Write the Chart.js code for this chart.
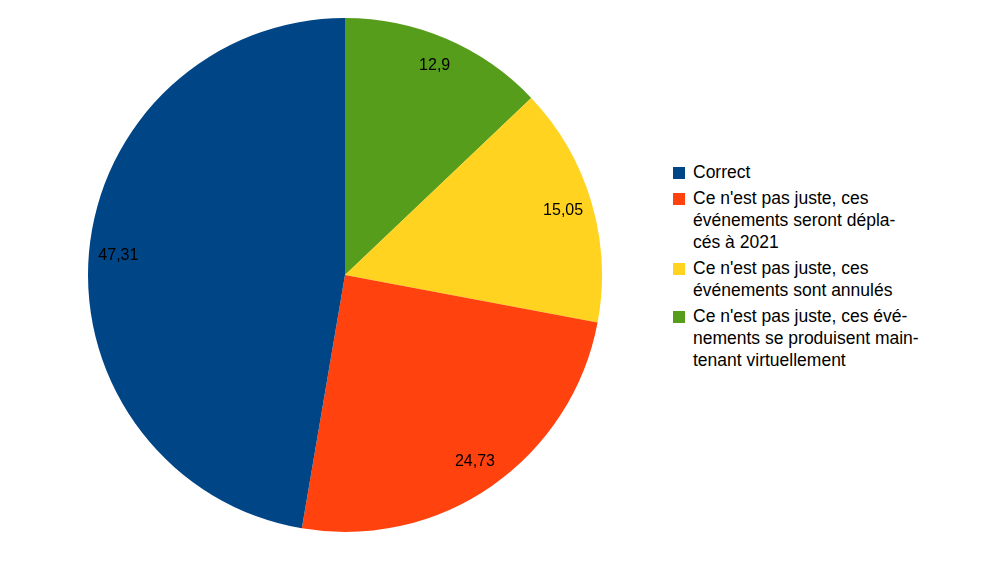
<!DOCTYPE html>
<html><head><meta charset="utf-8">
<script src="https://cdn.jsdelivr.net/npm/chart.js@4/dist/chart.umd.min.js"></script>
<style>
body{margin:0;background:#fff;width:1000px;height:562px;overflow:hidden;font-family:"Liberation Sans",Arial,sans-serif;}
#wrap{position:absolute;left:86px;top:16px;width:518px;height:518px;}
#legend{position:absolute;left:673px;top:161px;font-size:17.5px;line-height:22px;color:#000;}
.item{position:relative;padding-left:20px;margin-bottom:4px;}
.sw{position:absolute;left:0;top:6px;width:12px;height:12px;}
</style></head><body>
<div id="wrap"><canvas id="c"></canvas></div>
<div id="legend"></div>
<script>
const categories = ["Ce n'est pas juste, ces événements se produisent maintenant virtuellement","Ce n'est pas juste, ces événements sont annulés","Ce n'est pas juste, ces événements seront déplacés à 2021","Correct"];
const values = [12.9, 15.05, 24.73, 47.31];
const valueLabels = ["12,9","15,05","24,73","47,31"];
const colors = ["#579d1c","#ffd320","#ff420e","#004586"];
const legendOrder = [3,2,1,0];
const legendLines = {
 3:["Correct"],
 2:["Ce n'est pas juste, ces","événements seront dépla-","cés à 2021"],
 1:["Ce n'est pas juste, ces","événements sont annulés"],
 0:["Ce n'est pas juste, ces évé-","nements se produisent main-","tenant virtuellement"]
};
const lg=document.getElementById('legend');
legendOrder.forEach(i=>{const d=document.createElement('div');d.className='item';
 d.innerHTML='<span class="sw" style="background:'+colors[i]+'"></span>'+legendLines[i].join('<br>');lg.appendChild(d);});
const labelPlugin={id:'lbl',afterDatasetsDraw(ch){const ctx=ch.ctx;const meta=ch.getDatasetMeta(0);
 ctx.save();ctx.font='16px "Liberation Sans", Arial, sans-serif';ctx.fillStyle='#000';ctx.textAlign='center';ctx.textBaseline='middle';
 meta.data.forEach((a,i)=>{const ang=(a.startAngle+a.endAngle)/2;const r=a.outerRadius*0.885;
  ctx.fillText(valueLabels[i],a.x+Math.cos(ang)*r,a.y+Math.sin(ang)*r);});ctx.restore();}};
new Chart(document.getElementById('c'),{type:'pie',
 data:{labels:categories,datasets:[{data:values,backgroundColor:colors,borderWidth:0}]},
 options:{responsive:true,maintainAspectRatio:false,animation:false,layout:{padding:2},
  plugins:{legend:{display:false},tooltip:{enabled:false}}},
 plugins:[labelPlugin]});
</script></body></html>
